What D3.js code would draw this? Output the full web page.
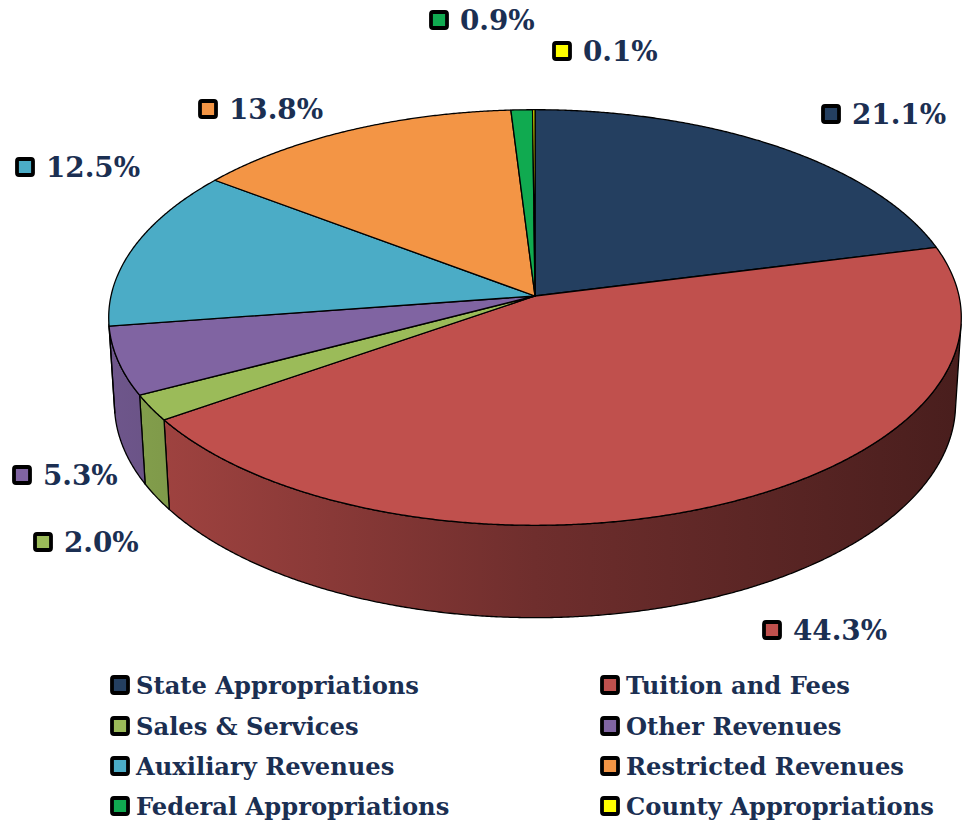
<!DOCTYPE html>
<html>
<head>
<meta charset="utf-8">
<script src="https://cdn.jsdelivr.net/npm/d3@7"></script>
<style>
  body { margin: 0; background: #fff; }
  text { font-family: "DejaVu Serif", serif; font-weight: bold; fill: #1b2f52; }
</style>
</head>
<body>
<svg id="chart" width="964" height="826"></svg>
<script>
// data
const categories = ["State Appropriations", "Tuition and Fees", "Sales & Services", "Other Revenues",
    "Auxiliary Revenues", "Restricted Revenues", "Federal Appropriations", "County Appropriations"];
const shares = [21.1, 44.3, 2.0, 5.3, 12.5, 13.8, 0.9, 0.1];
const labels = ["21.1%", "44.3%", "2.0%", "5.3%", "12.5%", "13.8%", "0.9%", "0.1%"];
const colors = ["#243f60", "#c0504d", "#9bbb59", "#8064a2", "#4bacc6", "#f39545", "#10aa50", "#ffff00"];

// where excel put the data labels (marker centre)
const labelPos = [[831, 114], [772, 630], [43, 542], [22, 475], [25, 167], [208, 109], [439, 20], [562, 51]];

const svg = d3.select("#chart");
const defs = svg.append("defs");

// 3d disc projection
const cx = 535, cy = 296, k = 424;
const tilt = 29 * Math.PI / 180;
const ct = Math.cos(tilt), st = Math.sin(tilt);
const dist = 8.45;
const depth = 0.235;

function proj(theta, r, yy) {
    const X = r * Math.sin(theta), Z = -r * Math.cos(theta);
    const w = Z * ct + yy * st;
    const v = Z * st - yy * ct;
    const s = dist / (dist - w);
    return [cx + k * X * s, cy + k * v * s];
}

// visible part of the outer wall
const silo = Math.acos(-1 / (dist * ct));
const wallFrom = silo, wallTo = 2 * Math.PI - silo;

const pie = d3.pie().sort(null).value(d => d)(shares);

function arcPoints(a0, a1, yy) {
    const n = Math.max(2, Math.ceil((a1 - a0) / 0.005));
    return d3.range(n + 1).map(i => proj(a0 + (a1 - a0) * i / n, 1, yy));
}

const line = d3.line();

// side shading, lighter on the left
colors.forEach(function(c, i) {
    const g = defs.append("linearGradient")
        .attr("id", "side-" + i)
        .attr("gradientUnits", "userSpaceOnUse")
        .attr("x1", cx - k).attr("x2", cx + k).attr("y1", 0).attr("y2", 0);
    [[0, 0.86], [0.5, 0.58], [1, 0.38]].forEach(function(st) {
        const col = d3.rgb(c);
        g.append("stop").attr("offset", st[0])
            .attr("stop-color", d3.rgb(col.r * st[1], col.g * st[1], col.b * st[1]).formatHex());
    });
});

// walls
const walls = svg.append("g");
pie.forEach(function(d, i) {
    const a0 = Math.max(d.startAngle, wallFrom), a1 = Math.min(d.endAngle, wallTo);
    if (a1 <= a0) return;
    const top = arcPoints(a0, a1, 0);
    const bot = arcPoints(a0, a1, -depth).reverse();
    walls.append("path")
        .attr("d", line(top.concat(bot)) + "Z")
        .attr("fill", "url(#side-" + i + ")")
        .attr("stroke", "#000")
        .attr("stroke-width", 1.3)
        .attr("stroke-linejoin", "round");
});

// top faces
const tops = svg.append("g");
pie.forEach(function(d, i) {
    const pts = [[cx, cy]].concat(arcPoints(d.startAngle, d.endAngle, 0));
    tops.append("path")
        .attr("d", line(pts) + "Z")
        .attr("fill", colors[i])
        .attr("stroke", "#000")
        .attr("stroke-width", 1.3)
        .attr("stroke-linejoin", "round");
});

function marker(g, x, y, c) {
    g.append("rect")
        .attr("x", x - 8).attr("y", y - 8)
        .attr("width", 16).attr("height", 16)
        .attr("rx", 2)
        .attr("fill", c)
        .attr("stroke", "#000")
        .attr("stroke-width", 3.8);
}

// data labels
const lab = svg.append("g");
labels.forEach(function(t, i) {
    const p = labelPos[i];
    marker(lab, p[0], p[1], colors[i]);
    lab.append("text")
        .attr("x", p[0] + 21)
        .attr("y", p[1])
        .attr("dy", "0.36em")
        .style("font-size", "27.8px")
        .text(t);
});

// legend, two columns
const legend = svg.append("g");
const colX = [120, 610], rowY = [685, 726, 766, 806];
categories.forEach(function(name, i) {
    const x = colX[i % 2], y = rowY[Math.floor(i / 2)];
    marker(legend, x, y, colors[i]);
    legend.append("text")
        .attr("x", x + 16)
        .attr("y", y)
        .attr("dy", "0.36em")
        .style("font-size", "24.2px")
        .text(name);
});
</script>
</body>
</html>
